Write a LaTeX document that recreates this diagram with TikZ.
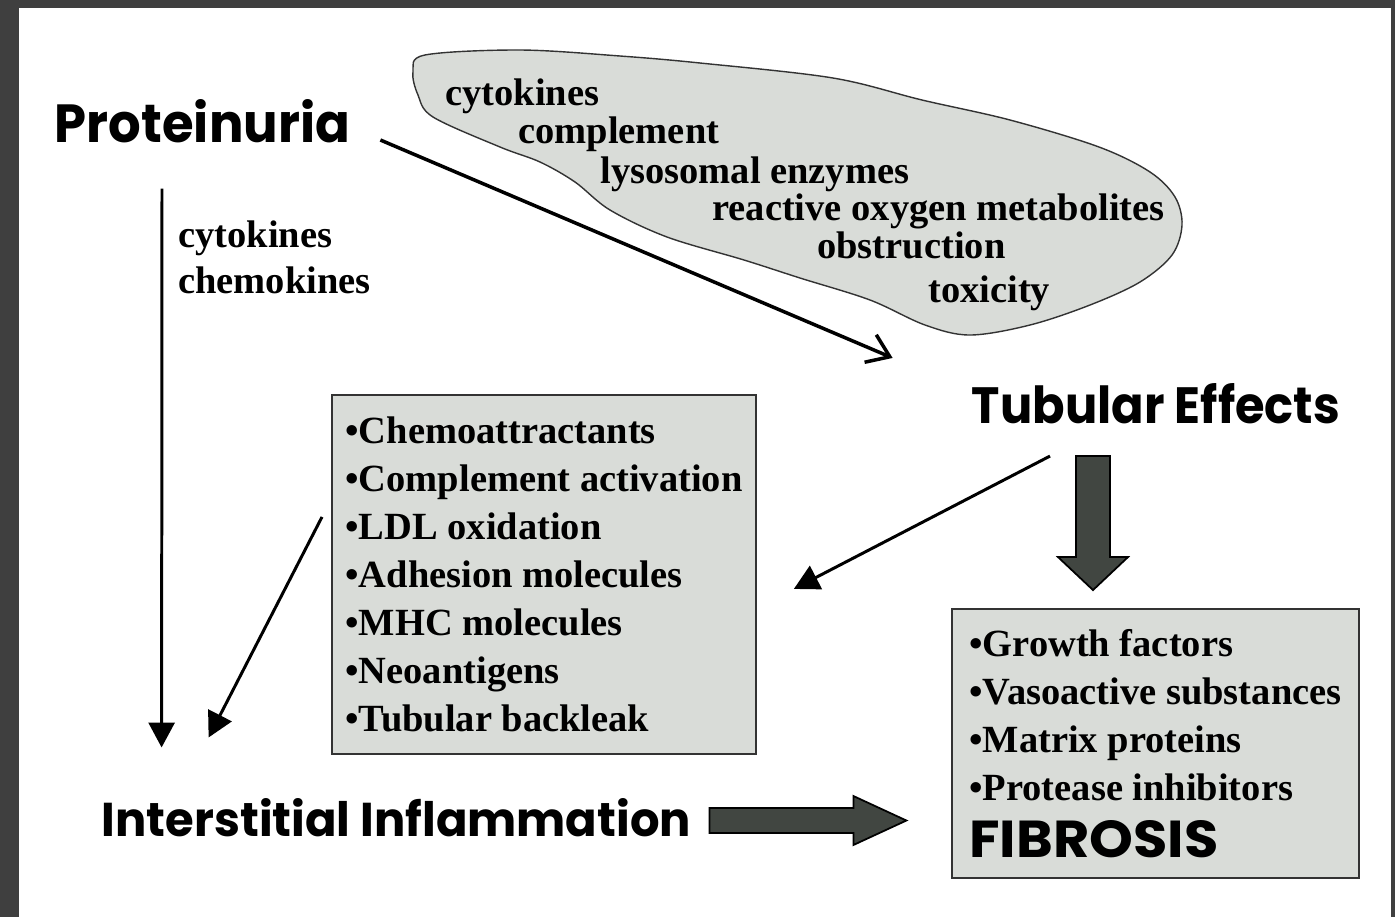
\documentclass[tikz,border=0pt]{standalone}
\usepackage{fontspec}
\usepackage{graphicx}
\setmainfont{Liberation Serif}
\newfontfamily\headfont{Poppins}
\usetikzlibrary{arrows.meta,calc}
\definecolor{frame}{HTML}{3F3F3F}
\definecolor{boxgray}{HTML}{D9DCD8}
\definecolor{arrowfill}{HTML}{414641}
\newlength\pxu
\setlength\pxu{0.02cm}
\newcommand\headfit[3]{\resizebox{#1\pxu}{#2\pxu}{\headfont\bfseries #3}}
\tikzset{
  head/.style={inner sep=0pt},
  word/.style={inner sep=0pt, anchor=base west, font=\fontsize{21.9}{27.3}\selectfont\bfseries},
  listbox/.style={draw=black!80, line width=1.1pt, fill=boxgray, align=left, inner sep=0.15cm,
    anchor=north west, font=\fontsize{21.9}{27.3}\selectfont\bfseries},
  thinarrow/.style={line width=1.7pt, -{Triangle[width=14.8pt,length=14.2pt]}},
  blockarrow/.style={fill=arrowfill, draw=black, line width=1pt, line join=miter},
}
\begin{document}
\begin{tikzpicture}[x=0.02cm, y=-0.02cm]
\useasboundingbox (0,0) rectangle (1395,917);
\fill[frame] (0,0) rectangle (1395,917);
\fill[white] (19,8) rectangle (1391,917);
% cloud
\draw[fill=boxgray, draw=black!80, line width=0.8pt] plot[smooth cycle, tension=0.55] coordinates {
  (425,55) (520,50) (620,56) (700,63) (833,78) (922,100) (1010,120) (1099,147) (1150,172)
  (1175,197) (1182,225) (1172,255) (1140,282) (1090,305) (1030,325) (970,335) (925,325)
  (870,300) (800,278) (744,260) (667,237) (610,210) (575,182) (540,162) (500,147) (433,117)
  (418,95) (413,72)};
\node[word] (cyto) at (445,105) {cytokines};
\node[word] (compl) at (518,143) {complement};
\node[word] (lyso) at (600,183) {lysosomal enzymes};
\node[word] (ros) at (712,220) {reactive oxygen metabolites};
\node[word] (obst) at (817,258) {obstruction};
\node[word] (toxi) at (928,302) {toxicity};
% main labels
\node[head] (prot) at (202.5,121.5) {\headfit{295}{43}{Proteinuria}};
\node[head] (tub) at (1156,403.5) {\headfit{368}{40}{Tubular Effects}};
\node[head] (infl) at (396.5,818) {\headfit{589}{38}{Interstitial Inflammation}};
\node[word] (lcyto) at (178,247) {cytokines};
\node[word] (lchemo) at (178,293) {chemokines};
\node[listbox, minimum width=8.48cm, minimum height=7.18cm] (listA) at (331,394) {
  \textbullet Chemoattractants\\ \textbullet Complement activation\\ \textbullet LDL oxidation\\
  \textbullet Adhesion molecules\\ \textbullet MHC molecules\\ \textbullet Neoantigens\\
  \textbullet Tubular backleak};
\node[listbox, minimum width=8.14cm, minimum height=5.38cm] (listB) at (951,608) {
  \textbullet Growth factors\\ \textbullet Vasoactive substances\\ \textbullet Matrix proteins\\
  \textbullet Protease inhibitors\\[5.1pt] \headfit{249}{37}{FIBROSIS}};
% arrows
\draw[line width=2pt, -{Straight Barb[length=12pt,width=17pt]}] ($(prot.east)+(30,18.5)$) -- ($(tub.north west)+(-79,-25)$);
\draw[thinarrow] ($(prot.south)+(-40.5,45)$) -- ($(infl.north west)+(60,-51)$);
\draw[thinarrow] ($(listA.west)+(-9,-57.5)$) -- ($(infl.north west)+(107,-61)$);
\draw[thinarrow] ($(tub.south)+(-106,32)$) -- ($(listA.east)+(37,14.5)$);
\draw[blockarrow] ($(tub.south)+(-63,32)$) ++(-17,0) -- ++(34,0) -- ++(0,101) -- ++(18,0)
  -- ++(-35,33) -- ++(-35,-33) -- ++(18,0) -- cycle;
\draw[blockarrow] ($(infl.east)+(18,2.5)$) ++(0,-12.5) -- ++(144,0) -- ++(0,-12) -- ++(53,24.5)
  -- ++(-53,24.5) -- ++(0,-12) -- ++(-144,0) -- cycle;
\end{tikzpicture}
\end{document}
